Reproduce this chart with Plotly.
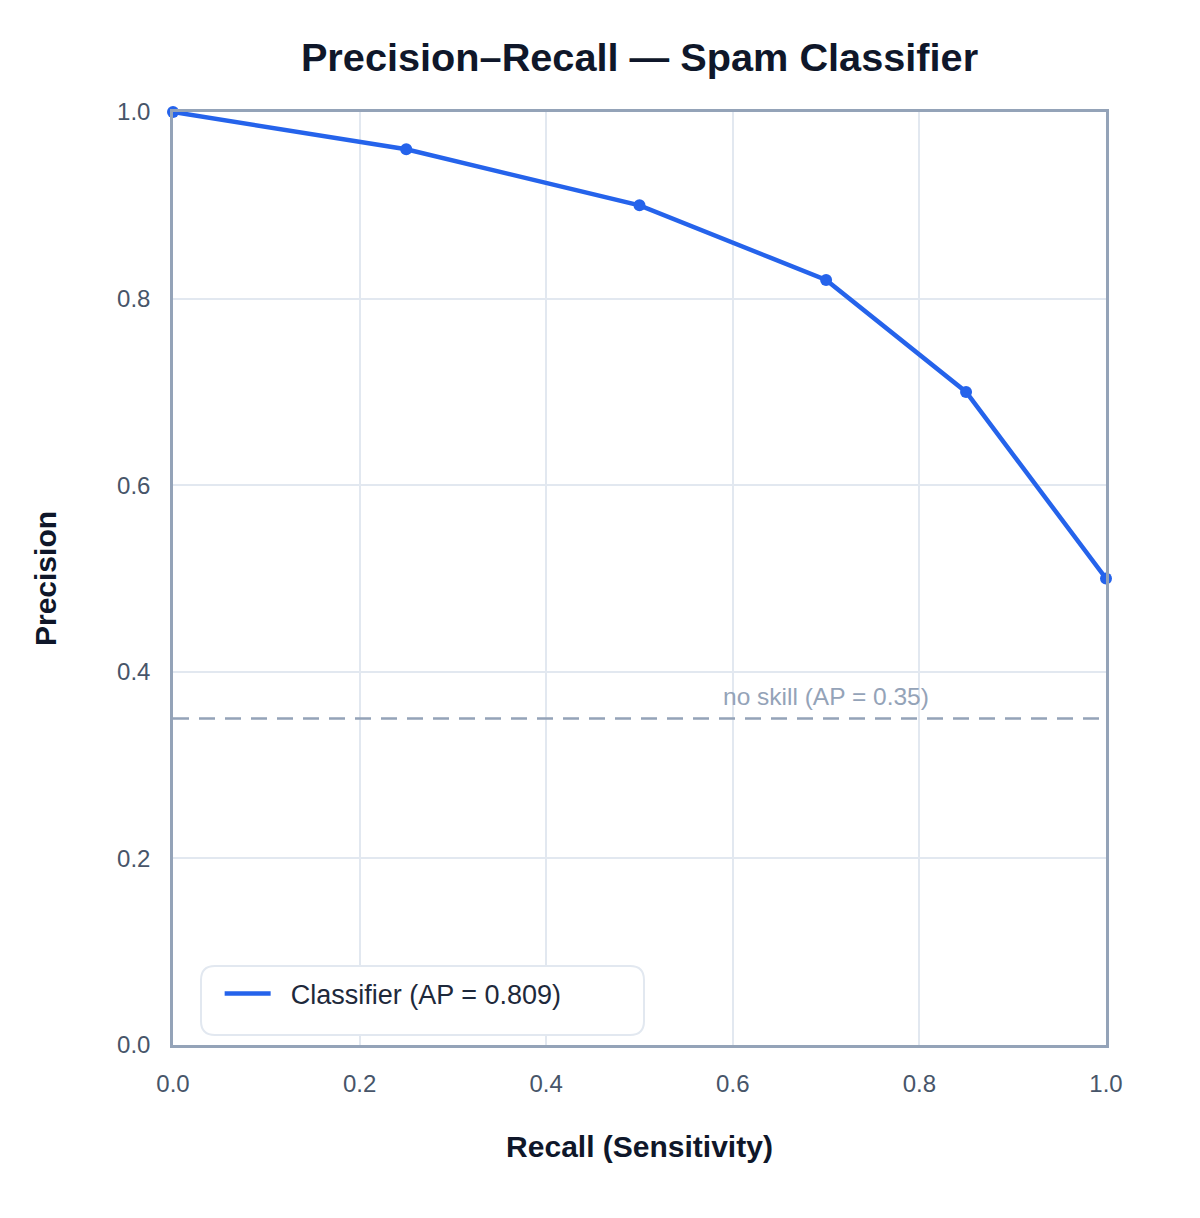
import plotly.graph_objects as go

recall = [0.0, 0.25, 0.5, 0.7, 0.85, 1.0]
precision = [1.0, 0.96, 0.90, 0.82, 0.70, 0.50]
no_skill = 0.35
tick_vals = [0.0, 0.2, 0.4, 0.6, 0.8, 1.0]
tick_text = ["0.0", "0.2", "0.4", "0.6", "0.8", "1.0"]

FONT = "Liberation Sans, Arial, Helvetica, sans-serif"
BLUE = "#2563eb"
SLATE = "#94a3b8"

fig = go.Figure()
fig.add_trace(go.Scatter(
    x=[0, 1], y=[no_skill, no_skill], mode="lines",
    line=dict(color=SLATE, width=2.5, dash="16px,10px"),
    showlegend=False, hoverinfo="skip"))
fig.add_trace(go.Scatter(
    x=recall, y=precision, mode="lines",
    name="\u00a0\u00a0Classifier (AP = 0.809)",
    line=dict(color=BLUE, width=4.5)))
fig.add_trace(go.Scatter(
    x=recall, y=precision, mode="markers",
    marker=dict(color=BLUE, size=12),
    showlegend=False, cliponaxis=False, hoverinfo="skip"))

# rounded legend background (paper coords, plot is square 933px)
px = 1 / 933
x0, x1 = 28 * px, 471 * px
y0, y1 = 10 * px, 79 * px
r = 14 * px
path = (f"M{x0+r},{y0} L{x1-r},{y0} Q{x1},{y0} {x1},{y0+r} L{x1},{y1-r} Q{x1},{y1} {x1-r},{y1} "
        f"L{x0+r},{y1} Q{x0},{y1} {x0},{y1-r} L{x0},{y0+r} Q{x0},{y0} {x0+r},{y0} Z")
fig.add_shape(type="path", path=path, xref="paper", yref="paper",
              line=dict(color="#e2e8f0", width=2), fillcolor="white", layer="above")

fig.add_annotation(x=0.70, y=no_skill, xref="x", yref="y", text="no skill (AP = 0.35)",
                   showarrow=False, xanchor="center", yanchor="bottom", yshift=6,
                   font=dict(family=FONT, size=24.5, color=SLATE))

axis_common = dict(
    range=[0, 1], tickvals=tick_vals, ticktext=tick_text,
    showgrid=True, gridcolor="#e2e8f0", gridwidth=2,
    showline=True, linecolor=SLATE, linewidth=2.5, mirror=True,
    zeroline=False, ticks="outside", tickcolor="rgba(0,0,0,0)",
    tickfont=dict(family=FONT, size=24, color="#475569"),
)

fig.update_layout(
    width=1200, height=1218,
    paper_bgcolor="white", plot_bgcolor="white",
    margin=dict(l=173, r=94, t=112, b=173),
    title=dict(text="<b>Precision–Recall — Spam Classifier</b>", x=0.5, xanchor="center",
               xref="paper", y=1 - 57 / 1218, yanchor="middle",
               font=dict(family=FONT, size=39.7, color="#0f172a")),
    xaxis=dict(**axis_common, ticklen=15,
               title=dict(text="<b>Recall (Sensitivity)</b>", standoff=41,
                          font=dict(family=FONT, size=30, color="#0f172a"))),
    yaxis=dict(**axis_common, ticklen=15,
               title=dict(text="<b>Precision</b>", standoff=52,
                          font=dict(family=FONT, size=30, color="#0f172a"))),
    legend=dict(x=0.05, y=0.0547, xanchor="left", yanchor="middle",
                bgcolor="rgba(0,0,0,0)", borderwidth=0, itemwidth=46,
                font=dict(family=FONT, size=27, color="#1e293b")),
    showlegend=True,
)

fig.write_html("out.html")
